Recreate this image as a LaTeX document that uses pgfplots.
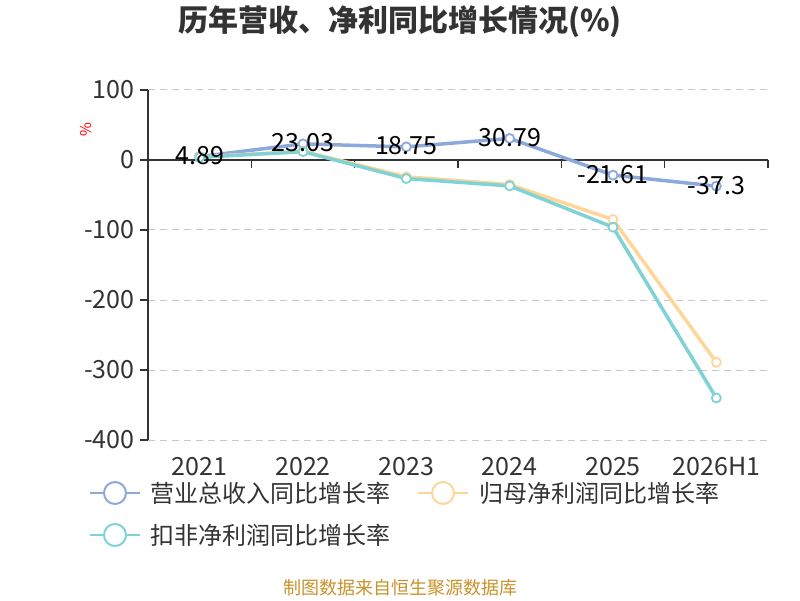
\documentclass[border=0pt]{standalone}
\usepackage{fontspec}
\setmainfont{Noto Sans CJK SC}
\usepackage{pgfplots}
\pgfplotsset{compat=1.18}
\definecolor{cblue}{HTML}{8DA9DB}
\definecolor{corange}{HTML}{FFD699}
\definecolor{cteal}{HTML}{80D2D4}
\definecolor{axisgray}{HTML}{333333}
\definecolor{gridgray}{HTML}{C8C8C8}
\definecolor{foot}{HTML}{C8922A}
\newcommand{\fs}[1]{\fontsize{#1}{#1}\selectfont}
\begin{document}
\begin{tikzpicture}
\path[use as bounding box] (0pt,0pt) rectangle (800pt,600pt);
\begin{axis}[
  at={(148pt,160pt)}, anchor=south west,
  width=620pt, height=350pt, scale only axis,
  xmin=-0.5, xmax=5.5, ymin=-400, ymax=100,
  axis x line*=bottom, axis y line*=left,
  x axis line style={draw=none},
  y axis line style={axisgray, line width=1.5pt},
  xtick={0,1,2,3,4,5},
  xticklabels={2021,2022,2023,2024,2025,2026H1},
  major x tick style={draw=none},
  ytick={-400,-300,-200,-100,0,100},
  tick align=outside,
  major tick length=8pt,
  y tick style={axisgray, line width=1.5pt},
  ymajorgrids, grid style={gridgray, dashed, line width=1pt, dash pattern=on 7pt off 5pt},
  /pgf/number format/assume math mode=true,
  tick label style={font=\fs{25}, text=axisgray},
  xticklabel style={anchor=north, yshift=-6pt},
  yticklabel style={anchor=east, xshift=-2pt},
  clip=false,
]
\draw[axisgray, line width=1.5pt] (axis cs:-0.5,0) -- (axis cs:5.5,0);
\pgfplotsinvokeforeach{-0.5,0.5,1.5,2.5,3.5,4.5,5.5}{
  \draw[axisgray, line width=1.5pt] (axis cs:#1,0) -- ([yshift=-8pt]axis cs:#1,0);
}
\addplot[cblue, line width=3.5pt, mark=*, mark size=4.5pt, mark options={fill=white, line width=1.8pt}]
  coordinates {(0,4.89) (1,23.03) (2,18.75) (3,30.79) (4,-21.61) (5,-37.3)};
\addplot[corange, line width=3.5pt, mark=*, mark size=4.5pt, mark options={fill=white, line width=1.8pt}]
  coordinates {(0,4.5) (1,12.5) (2,-24) (3,-35) (4,-85) (5,-289)};
\addplot[cteal, line width=3.5pt, mark=*, mark size=4.5pt, mark options={fill=white, line width=1.8pt}]
  coordinates {(0,3.8) (1,11.9) (2,-26.5) (3,-37) (4,-96) (5,-340)};
\addplot[draw=none, mark=none, nodes near coords, point meta=explicit symbolic,
  nodes near coords style={anchor=center, font=\fs{25}, text=black, yshift=1pt}]
  coordinates {(0,4.89) [4.89] (1,23.03) [23.03] (2,18.75) [18.75] (3,30.79) [30.79] (4,-21.61) [-21.61] (5,-37.3) [-37.3]};
\end{axis}
\node[font=\bfseries\fs{30}, text=axisgray] at (400pt,578pt) {历年营收、净利同比增长情况(\%)};
\node[font=\fs{15}, text=red, rotate=90] at (86pt,470pt) {\%};
% legend
\draw[cblue, line width=2pt] (90pt,107pt) -- (140pt,107pt);
\draw[cblue, line width=2pt, fill=white] (115pt,107pt) circle (11pt);
\node[anchor=west, font=\fs{24}, text=axisgray, inner sep=0pt] at (150pt,107pt) {营业总收入同比增长率};
\draw[corange, line width=2pt] (418pt,107pt) -- (468pt,107pt);
\draw[corange, line width=2pt, fill=white] (443pt,107pt) circle (11pt);
\node[anchor=west, font=\fs{24}, text=axisgray, inner sep=0pt] at (479pt,107pt) {归母净利润同比增长率};
\draw[cteal, line width=2pt] (90pt,65pt) -- (140pt,65pt);
\draw[cteal, line width=2pt, fill=white] (115pt,65pt) circle (11pt);
\node[anchor=west, font=\fs{24}, text=axisgray, inner sep=0pt] at (150pt,65pt) {扣非净利润同比增长率};
\node[font=\fs{18}, text=foot] at (400pt,12pt) {制图数据来自恒生聚源数据库};
\end{tikzpicture}
\end{document}
